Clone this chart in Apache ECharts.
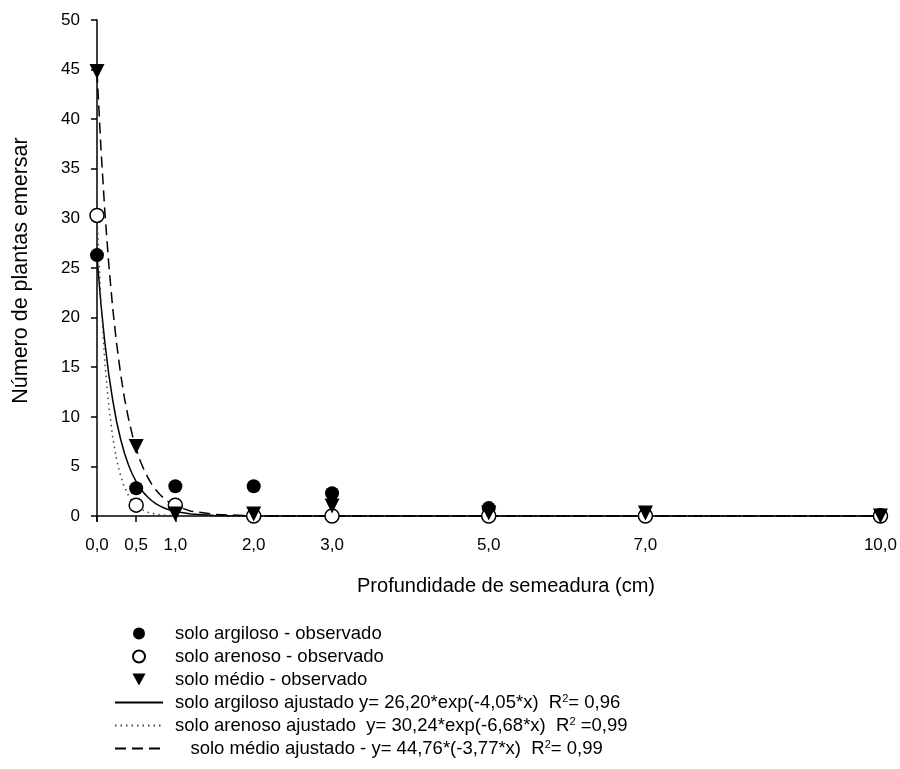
<!DOCTYPE html>
<html>
<head>
<meta charset="utf-8">
<script src="https://cdn.jsdelivr.net/npm/echarts@6/dist/echarts.min.js"></script>
<style>
  html, body { margin: 0; padding: 0; background: #fff; }
  #main { width: 900px; height: 769px; }
</style>
</head>
<body>
<div id="main"></div>
<script>
// profundidade (cm)
const xTicks = [0, 0.5, 1, 2, 3, 5, 7, 10];
const yTicks = [0, 5, 10, 15, 20, 25, 30, 35, 40, 45, 50];

// observado
const argObs = [26.3, 2.8, 3.0, 3.0, 2.3, 0.8, 0.1, 0.1];
const areObs = [30.3, 1.1, 1.1, 0.0, 0.0, 0.0, 0.0, 0.0];
const medObs = [44.8, 7.0, 0.2, 0.2, 1.0, 0.3, 0.3, 0.0];

// ajustado
const fitX   = [0, 0.05, 0.1, 0.15, 0.2, 0.25, 0.3, 0.35, 0.4, 0.45, 0.5, 0.55, 0.6, 0.65, 0.7, 0.75, 0.8, 0.85, 0.9, 0.95, 1.0, 1.2, 1.5, 2, 3, 10];
const argFit = [26.2, 21.4, 17.5, 14.3, 11.7, 9.53, 7.79, 6.36, 5.19, 4.24, 3.47, 2.83, 2.31, 1.89, 1.54, 1.26, 1.03, 0.84, 0.69, 0.56, 0.46, 0.20, 0.06, 0.01, 0, 0];
const areFit = [30.2, 21.7, 15.5, 11.1, 7.95, 5.69, 4.08, 2.92, 2.09, 1.50, 1.07, 0.77, 0.55, 0.39, 0.28, 0.20, 0.14, 0.10, 0.07, 0.05, 0.04, 0.01, 0, 0, 0, 0];
const medFit = [44.8, 37.1, 30.7, 25.4, 21.0, 17.4, 14.4, 11.9, 9.9, 8.2, 6.8, 5.6, 4.66, 3.86, 3.19, 2.64, 2.19, 1.81, 1.50, 1.24, 1.03, 0.49, 0.16, 0.02, 0, 0];

const legendText = {
  a1: 'solo argiloso - observado',
  a2: 'solo arenoso - observado',
  a3: 'solo médio - observado',
  f1: 'solo argiloso ajustado y= 26,20*exp(-4,05*x)  R{s|2}= 0,96',
  f2: 'solo arenoso ajustado  y= 30,24*exp(-6,68*x)  R{s|2} =0,99',
  f3: '   solo médio ajustado - y= 44,76*(-3,77*x)  R{s|2}= 0,99'
};

const FONT = '"Liberation Sans", Arial, sans-serif';

function pairs(xs, ys) { return xs.map((x, i) => [x, ys[i]]); }
function comma(v) { return v.toFixed(1).replace('.', ','); }

const chart = echarts.init(document.getElementById('main'));

const lineLegend = { itemStyle: { opacity: 0 } };

const option = {
  animation: false,
  textStyle: { fontFamily: FONT, color: '#000' },
  grid: { left: 97, right: 19, top: 20, bottom: 248 },
  xAxis: {
    type: 'value', min: 0, max: 10,
    axisLine: { lineStyle: { color: '#000', width: 1.5 } },
    axisTick: { customValues: xTicks, length: 6, lineStyle: { color: '#000', width: 1.5 } },
    axisLabel: { customValues: xTicks, formatter: comma, fontSize: 17, color: '#000', margin: 16, fontFamily: FONT },
    splitLine: { show: false }
  },
  yAxis: {
    type: 'value', min: -0.5, max: 50,
    name: 'Número de plantas emersar', nameLocation: 'middle', nameGap: 65,
    nameTextStyle: { fontSize: 21.5, color: '#000', fontFamily: FONT },
    axisLine: { lineStyle: { color: '#000', width: 1.5 } },
    axisTick: { customValues: yTicks, length: 6, lineStyle: { color: '#000', width: 1.5 } },
    axisLabel: { customValues: yTicks, fontSize: 17, color: '#000', margin: 17, fontFamily: FONT },
    splitLine: { show: false }
  },
  graphic: [{
    type: 'text', x: 506, y: 576,
    style: { text: 'Profundidade de semeadura (cm)', font: '20px ' + FONT, fill: '#000', textAlign: 'center' }
  }],
  legend: {
    orient: 'vertical', left: 114, top: 624, padding: 0,
    itemWidth: 48, itemHeight: 12, itemGap: 4,
    data: [
      'a1', 'a2',
      { name: 'a3', icon: 'path://M0,0 L12,0 L6,11 Z' },
      Object.assign({ name: 'f1' }, lineLegend),
      Object.assign({ name: 'f2' }, lineLegend),
      Object.assign({ name: 'f3' }, lineLegend)
    ],
    formatter: n => legendText[n],
    textStyle: { fontSize: 18.5, lineHeight: 18, color: '#000', fontFamily: FONT, padding: [0, 0, 0, 7],
      rich: { s: { fontSize: 11, lineHeight: 11, verticalAlign: 'top', padding: [0, 0, 6, 0], fontFamily: FONT } } }
  },
  series: [
    { name: 'f1', type: 'line', data: pairs(fitX, argFit), symbol: 'none',
      itemStyle: { color: '#000' }, lineStyle: { color: '#000', width: 1.5, type: 'solid' }, z: 2 },
    { name: 'f2', type: 'line', data: pairs(fitX, areFit), symbol: 'none',
      itemStyle: { color: '#444' }, lineStyle: { color: '#444', width: 1.5, type: [1.5, 4] }, z: 2 },
    { name: 'f3', type: 'line', data: pairs(fitX, medFit), symbol: 'none',
      itemStyle: { color: '#000' }, lineStyle: { color: '#000', width: 1.5, type: [11, 6] }, z: 2 },
    { name: 'a1', type: 'scatter', data: pairs(xTicks, argObs), symbol: 'circle', symbolSize: 14,
      itemStyle: { color: '#000', opacity: 1 }, z: 3 },
    { name: 'a2', type: 'scatter', data: pairs(xTicks, areObs), symbol: 'circle', symbolSize: 14,
      itemStyle: { color: '#fff', borderColor: '#000', borderWidth: 1.5, opacity: 1 }, z: 4 },
    { name: 'a3', type: 'scatter', data: pairs(xTicks, medObs), symbol: 'triangle', symbolRotate: 180, symbolSize: 15,
      itemStyle: { color: '#000', opacity: 1 }, z: 5 }
  ]
};

chart.setOption(option);
</script>
</body>
</html>
